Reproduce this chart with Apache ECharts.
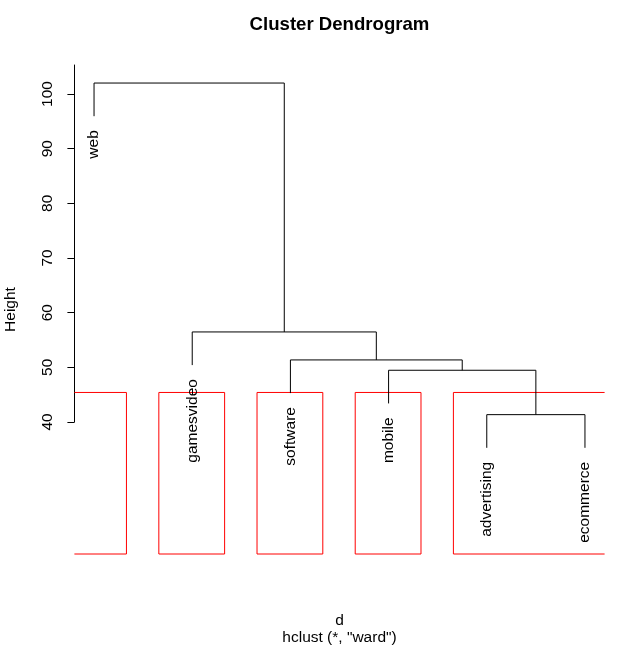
<!DOCTYPE html>
<html><head><meta charset="utf-8">
<script src="https://cdn.jsdelivr.net/npm/echarts@6/dist/echarts.min.js"></script>
<style>html,body{margin:0;padding:0;background:#fff}#c{width:635px;height:649px}</style>
</head><body><div id="c"></div>
<script>
// ---- data ----
const leafLabels = ['web', 'gamesvideo', 'software', 'mobile', 'advertising', 'ecommerce'];
// R-style merge matrix: negative = leaf (1-based position), positive = earlier merge step
const mergeLeft  = [-5, -4, -3, -2, -1];
const mergeRight = [-6,  1,  2,  3,  4];
const mergeHeight = [41.34, 49.46, 51.35, 56.47, 102.0];
const clusterSizes = [1, 1, 1, 1, 2];   // rect.hclust k = 5
const yTicks = [40, 50, 60, 70, 80, 90, 100];
const hang = 0.1;

// ---- layout constants ----
const FONT = 'Liberation Sans, Arial, Helvetica, sans-serif';
const FS = 15.5;
const yMin = 15.85, yMax = 105.3, xMin = 0.8, xMax = 6.2;

const hRange = Math.max(...mergeHeight) - Math.min(...mergeHeight);
const hangH = hang * hRange;

// node x positions & segments
const nodeX = [];
const segs = [];
const leafEnds = [];
function childInfo(c, h) {
  if (c < 0) {
    const x = -c; const y = h - hangH;
    leafEnds.push([x, y, leafLabels[x - 1]]);
    return [x, y];
  }
  return [nodeX[c - 1], mergeHeight[c - 1]];
}
for (let i = 0; i < mergeHeight.length; i++) {
  const h = mergeHeight[i];
  const a = childInfo(mergeLeft[i], h);
  const b = childInfo(mergeRight[i], h);
  segs.push([a[0], a[1], a[0], h]);
  segs.push([b[0], b[1], b[0], h]);
  segs.push([a[0], h, b[0], h]);
  nodeX.push((a[0] + b[0]) / 2);
}
// rect.hclust
const sortedH = mergeHeight.slice().sort((p, q) => q - p);
const k = clusterSizes.length;
const cutH = (sortedH[k - 2] + sortedH[k - 1]) / 2;
const rects = [];
let m = 0;
for (const s of clusterSizes) { rects.push([m + 0.66, yMin, m + s + 0.33, cutH]); m += s; }

const chart = echarts.init(document.getElementById('c'), null, {renderer: 'canvas'});
chart.setOption({
  animation: false,
  backgroundColor: '#fff',
  grid: [
    {left: 74.4, right: 30.4, top: 65, bottom: 95},
    {left: 74.4, right: 30.4, top: 65, height: 357}
  ],
  xAxis: [
    {gridIndex: 0, type: 'value', min: xMin, max: xMax, show: false},
    {gridIndex: 1, type: 'value', min: xMin, max: xMax, show: false}
  ],
  yAxis: [
    {gridIndex: 0, type: 'value', min: yMin, max: yMax, show: false},
    {gridIndex: 1, type: 'value', min: 40, max: yMax, position: 'left',
     axisLine: {show: true, lineStyle: {color: '#000', width: 1}},
     axisTick: {show: true, inside: false, length: 7, lineStyle: {color: '#000'}, customValues: yTicks},
     axisLabel: {show: true, rotate: 90, margin: 19, fontSize: FS, color: '#000', fontFamily: FONT, customValues: yTicks},
     splitLine: {show: false}}
  ],
  series: [
    {
      type: 'custom', xAxisIndex: 0, yAxisIndex: 0, clip: false,
      data: rects,
      renderItem: function (params, api) {
        const x0 = api.value(0), x1 = api.value(2);
        const cx0 = Math.max(x0, xMin), cx1 = Math.min(x1, xMax);
        const pB0 = api.coord([cx0, api.value(1)]);
        const pT1 = api.coord([cx1, api.value(3)]);
        const st = {stroke: '#ff0000', lineWidth: 1};
        const ch = [
          {type: 'line', shape: {x1: pB0[0], y1: pB0[1], x2: pT1[0], y2: pB0[1]}, style: st},
          {type: 'line', shape: {x1: pB0[0], y1: pT1[1], x2: pT1[0], y2: pT1[1]}, style: st}
        ];
        if (x0 >= xMin) ch.push({type: 'line', shape: {x1: pB0[0], y1: pB0[1], x2: pB0[0], y2: pT1[1]}, style: st});
        if (x1 <= xMax) ch.push({type: 'line', shape: {x1: pT1[0], y1: pB0[1], x2: pT1[0], y2: pT1[1]}, style: st});
        return {type: 'group', children: ch};
      }
    },
    {
      type: 'custom', xAxisIndex: 0, yAxisIndex: 0, clip: false,
      data: segs,
      renderItem: function (params, api) {
        const p1 = api.coord([api.value(0), api.value(1)]);
        const p2 = api.coord([api.value(2), api.value(3)]);
        return {type: 'line', shape: {x1: p1[0], y1: p1[1], x2: p2[0], y2: p2[1]},
          style: {stroke: '#000', lineWidth: 1}};
      }
    },
    {
      type: 'custom', xAxisIndex: 0, yAxisIndex: 0, clip: false,
      data: leafEnds,
      renderItem: function (params, api) {
        const p = api.coord([api.value(0), api.value(1)]);
        const name = leafEnds[params.dataIndex][2];
        return {type: 'text', x: p[0], y: p[1] + 14, rotation: Math.PI / 2,
          style: {text: name, align: 'right', verticalAlign: 'middle', fontSize: FS, fontFamily: FONT, fill: '#000'}};
      }
    }
  ],
  graphic: [
    {type: 'text', x: 339.5, y: 25, style: {text: 'Cluster Dendrogram', align: 'center', verticalAlign: 'middle', fontSize: FS * 1.2, fontWeight: 'bold', fontFamily: FONT, fill: '#000'}},
    {type: 'text', x: 339.5, y: 621, style: {text: 'd', align: 'center', verticalAlign: 'middle', fontSize: FS, fontFamily: FONT, fill: '#000'}},
    {type: 'text', x: 339.5, y: 638, style: {text: 'hclust (*, "ward")', align: 'center', verticalAlign: 'middle', fontSize: FS, fontFamily: FONT, fill: '#000'}},
    {type: 'text', x: 11, y: 309.5, rotation: Math.PI / 2, style: {text: 'Height', align: 'center', verticalAlign: 'middle', fontSize: FS, fontFamily: FONT, fill: '#000'}}
  ]
});
</script></body></html>
